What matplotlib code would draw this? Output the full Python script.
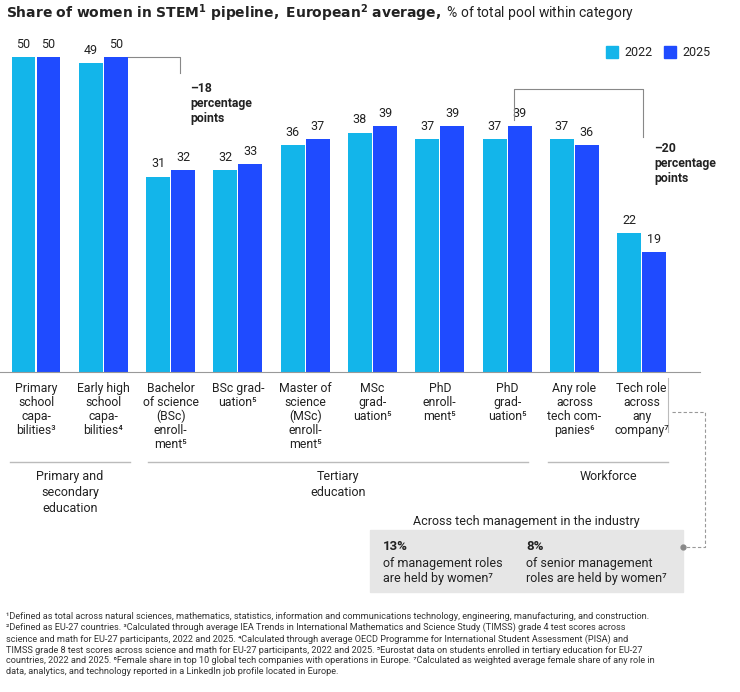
import matplotlib.pyplot as plt
from matplotlib.patches import Rectangle

plt.rcParams['font.family'] = ['Roboto', 'DejaVu Sans']

categories = ["Primary\nschool\ncapa-\nbilities³", "Early high\nschool\ncapa-\nbilities⁴",
              "Bachelor\nof science\n(BSc)\nenroll-\nment⁵", "BSc grad-\nuation⁵",
              "Master of\nscience\n(MSc)\nenroll-\nment⁵", "MSc\ngrad-\nuation⁵",
              "PhD\nenroll-\nment⁵", "PhD\ngrad-\nuation⁵",
              "Any role\nacross\ntech com-\npanies⁶", "Tech role\nacross\nany\ncompany⁷"]
v2022 = [50, 49, 31, 32, 36, 38, 37, 37, 37, 22]
v2025 = [50, 50, 32, 33, 37, 39, 39, 39, 36, 19]
c22, c25 = '#13B5EA', '#1F4BFF'

W, H = 740, 692
fig = plt.figure(figsize=(W / 100, H / 100), dpi=100)
ax = fig.add_axes([0, 0, 1, 1])
step = 67.3
ax.set_xlim(-36 / step, (W - 36) / step)
ax.set_ylim(-(H - 372) / 6.3, 372 / 6.3)
ax.axis('off')

def px(x, y):
    return x / W, 1 - y / H

def T(x, y, s, **kw):
    kw.setdefault('color', '#222222')
    fig.text(*px(x, y), s, **kw)

def L(xs, ys, **kw):
    kw.setdefault('color', '#888888')
    kw.setdefault('lw', 0.8)
    fig.add_artist(plt.Line2D([x / W for x in xs], [1 - y / H for y in ys], **kw))

bw, off = 0.355, 0.186
for i in range(len(categories)):
    ax.bar(i - off, v2022[i], bw, color=c22)
    ax.bar(i + off, v2025[i], bw, color=c25)
    ax.text(i - off, v2022[i] + 1, str(v2022[i]), ha='center', va='bottom', fontsize=9, color='#222222')
    ax.text(i + off, v2025[i] + 1, str(v2025[i]), ha='center', va='bottom', fontsize=9, color='#222222')
    T(36 + step * i, 382, categories[i], ha='center', va='top', fontsize=8.8, linespacing=1.1)
L([0, 700], [372, 372], color='#999999')

# title
T(6, 13, r"$\bf{Share\ of\ women\ in\ STEM^1\ pipeline,\ European^2\ average,}$ % of total pool within category",
  va='center', fontsize=10)
# legend
fig.add_artist(Rectangle(px(606, 58), 12 / W, 12 / H, color=c22))
T(624, 52, '2022', va='center', fontsize=9)
fig.add_artist(Rectangle(px(664, 58), 12 / W, 12 / H, color=c25))
T(682, 52, '2025', va='center', fontsize=9)

# brackets
L([128, 180, 180], [57, 57, 73])
T(190, 82, '–18\npercentage\npoints', va='top', fontsize=8.8, fontweight='bold', linespacing=1.2)
L([514, 514, 643, 643], [120, 89, 89, 137])
T(654, 142, '–20\npercentage\npoints', va='top', fontsize=8.8, fontweight='bold', linespacing=1.2)

# group lines
for (a, b, lab) in [(10, 130, 'Primary and\nsecondary\neducation'), (148, 528, 'Tertiary\neducation'),
                    (548, 668, 'Workforce')]:
    L([a, b], [462, 462], color='#bbbbbb', lw=1)
    T((a + b) / 2, 470, lab, ha='center', va='top', fontsize=9, linespacing=1.3)

# management callout
L([668, 668], [378, 432], color='#bbbbbb')
L([672, 705, 705, 684], [412, 412, 547, 547], ls=(0, (3, 2)), color='#999999')
fig.add_artist(Rectangle(px(370, 592), 313 / W, 62 / H, color='#E6E6E6'))
fig.add_artist(plt.Line2D([683 / W], [1 - 547 / H], marker='o', ms=3.5, color='#888888'))
T(526, 522, 'Across tech management in the industry', ha='center', va='center', fontsize=9)
T(383, 547, '13%', va='center', fontsize=9.5, fontweight='bold')
T(383, 571, 'of management roles\nare held by women⁷', va='center', fontsize=9, linespacing=1.2)
T(526, 547, '8%', va='center', fontsize=9.5, fontweight='bold')
T(526, 571, 'of senior management\nroles are held by women⁷', va='center', fontsize=9, linespacing=1.2)

foot = ("¹Defined as total across natural sciences, mathematics, statistics, information and communications technology, engineering, manufacturing, and construction.\n"
        "²Defined as EU-27 countries. ³Calculated through average IEA Trends in International Mathematics and Science Study (TIMSS) grade 4 test scores across\n"
        "science and math for EU-27 participants, 2022 and 2025. ⁴Calculated through average OECD Programme for International Student Assessment (PISA) and\n"
        "TIMSS grade 8 test scores across science and math for EU-27 participants, 2022 and 2025. ⁵Eurostat data on students enrolled in tertiary education for EU-27\n"
        "countries, 2022 and 2025. ⁶Female share in top 10 global tech companies with operations in Europe. ⁷Calculated as weighted average female share of any role in\n"
        "data, analytics, and technology reported in a LinkedIn job profile located in Europe.")
T(6, 612, foot, va='top', fontsize=6.6, linespacing=1.25, color='#333333')

fig.savefig('out.png', dpi=100)
